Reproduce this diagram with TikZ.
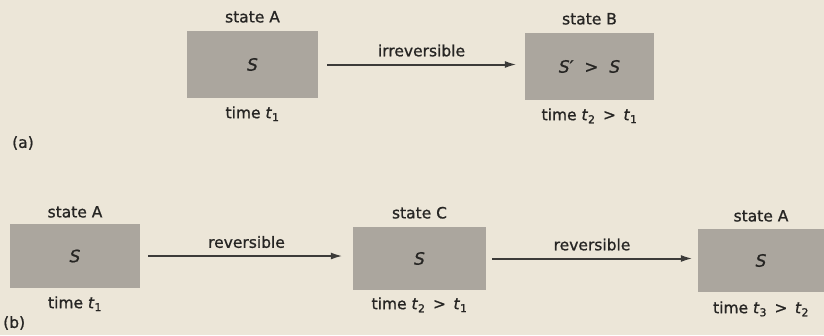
\documentclass[tikz,border=0pt]{standalone}
\usepackage{xcolor}
\usepackage{fontspec}
\setmainfont[FakeBold=1]{DejaVu Sans}
\usepackage{tikz}
\usetikzlibrary{arrows.meta,positioning}
\definecolor{Paper}{HTML}{ECE6D8}
\definecolor{Slab}{HTML}{ABA69E}
\definecolor{Ink}{HTML}{262523}

\begin{document}
\begin{tikzpicture}[
  x=1pt,y=-1pt,
  state/.style={fill=Slab,inner sep=0pt,font=\fontsize{17}{19}\selectfont\itshape,text=Ink},
  tag/.style={inner sep=0pt,font=\fontsize{15.5}{17}\selectfont,text=Ink},
  arrow/.style={-{Latex[length=12pt,width=7pt]},line width=2pt,draw=Ink!90}
]
\fill[Paper] (0,0) rectangle (824,335);
\useasboundingbox (0,0) rectangle (824,335);
% (a)
\node[state,minimum width=131pt,minimum height=67pt] (sA) at (252.5,64.5) {S};
\node[state,minimum width=129pt,minimum height=67pt] (sB) at (589.5,66.5) {S′\ \ >\ \ S};
\node[tag,above=8pt of sA] (nA) {state A};
\node[tag,above=8pt of sB] (nB) {state B};
\node[tag,below=8pt of sA] (tA) {time \textit{t}\textsubscript{1}};
\node[tag,below=8pt of sB] (tB) {time \textit{t}\textsubscript{2} \,>\, \textit{t}\textsubscript{1}};
\draw[arrow,shorten <=9pt,shorten >=8pt] (sA.east) -- (sA.east -| sB.west)
  node[tag,midway,above=7pt] (irr) {irreversible};
\node[tag,anchor=west] (pa) at (12,143) {(a)};
% (b)
\node[state,minimum width=130pt,minimum height=64pt] (sA1) at (75,256) {S};
\node[state,minimum width=133pt,minimum height=63pt] (sC) at (419.5,258.5) {S};
\node[state,minimum width=126pt,minimum height=63pt] (sA2) at (761,260.5) {S};
\node[tag,above=6pt of sA1] (nA1) {state A};
\node[tag,above=8pt of sC] (nC) {state C};
\node[tag,above=7pt of sA2] (nA2) {state A};
\node[tag,below=8pt of sA1] (tA1) {time \textit{t}\textsubscript{1}};
\node[tag,below=7pt of sC] (tC) {time \textit{t}\textsubscript{2} \,>\, \textit{t}\textsubscript{1}};
\node[tag,below=9pt of sA2] (tA2) {time \textit{t}\textsubscript{3} \,>\, \textit{t}\textsubscript{2}};
\draw[arrow,shorten <=8pt,shorten >=10pt] (sA1.east) -- (sA1.east -| sC.west)
  node[tag,midway,above=7pt] (rev1) {reversible};
\draw[arrow,shorten <=6pt,shorten >=5pt] (sC.east) -- (sC.east -| sA2.west)
  node[tag,midway,above=7pt] (rev2) {reversible};
\node[tag,anchor=west] (pb) at (3,323) {(b)};
\end{tikzpicture}
\end{document}
